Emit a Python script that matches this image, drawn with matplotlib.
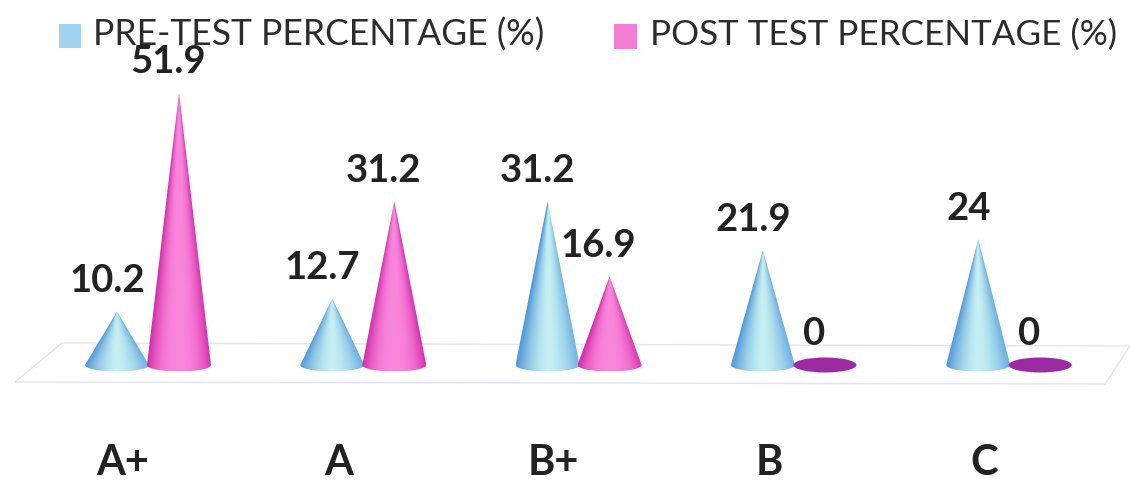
import matplotlib
matplotlib.use('Agg')
import matplotlib.pyplot as plt
import numpy as np
from matplotlib.path import Path
from matplotlib.patches import PathPatch, Ellipse, Rectangle, Polygon

categories = ['A+', 'A', 'B+', 'B', 'C']
pre_test = [10.2, 12.7, 31.2, 21.9, 24]
post_test = [51.9, 31.2, 16.9, 0, 0]
legend_labels = ['PRE-TEST PERCENTAGE (%)', 'POST TEST PERCENTAGE (%)']

plt.rcParams['font.family'] = ['Lato', 'DejaVu Sans']

W, H = 1130, 484
fig = plt.figure(figsize=(W / 100, H / 100), dpi=100)
ax = fig.add_axes([0, 0, 1, 1])

# one category = 215.3 px, one percent = 5.24 px
xlim = (-148 / 215.3, (W - 148) / 215.3)
ylim = (-(H - 365) / 5.24, 365 / 5.24)
px_x = 1 / 215.3
px_y = 1 / 5.24


def cone(x, val, half_w, left, mid, right, power):
    half_h = 6.5 * px_y
    left, mid, right = [np.array(matplotlib.colors.to_rgb(c)) for c in (left, mid, right)]
    xs = np.linspace(x - half_w, x + half_w, 120)
    ys = np.linspace(-half_h, val, 300)
    img = np.zeros((len(ys), len(xs), 3))
    for i, yy in enumerate(ys):
        w = half_w * max(1 - max(yy, 0) / val, 0.001)
        u = np.clip((xs - x) / w, -1, 1)
        edge = np.where(u[:, None] < 0, left, right)
        k = (1 - np.abs(u)[:, None] ** power)
        img[i] = edge + (mid - edge) * k
    im = ax.imshow(img, extent=(xs[0], xs[-1], ys[0], ys[-1]), origin='lower',
                   aspect='auto', zorder=3, interpolation='bilinear')
    t = np.linspace(np.pi, 2 * np.pi, 40)
    verts = [(x + half_w * np.cos(a), half_h * np.sin(a)) for a in t]
    verts = verts + [(x, val), verts[0]]
    codes = [Path.MOVETO] + [Path.LINETO] * (len(verts) - 2) + [Path.CLOSEPOLY]
    clip = PathPatch(Path(verts, codes), transform=ax.transData, fc='none', ec='none')
    ax.add_patch(clip)
    im.set_clip_path(clip)


# floor of the 3d plot
ax.add_patch(Polygon([(15 / W, 1 - 382 / H), (62 / W, 1 - 343 / H), (1130 / W, 1 - 346 / H),
                      (1105 / W, 1 - 384 / H)], closed=True, transform=ax.transAxes,
                     fc='none', ec='#e4e4f6', lw=1, zorder=1))

for i in range(len(categories)):
    x1 = i - 31 * px_x
    x2 = i + 31 * px_x
    cone(x1, pre_test[i], 32 * px_x, '#4f97d8', '#c6f0f2', '#6aaee2', 1.6)
    if post_test[i] > 0:
        cone(x2, post_test[i], 32 * px_x, '#d02ba6', '#fa86dc', '#d832ae', 2.4)
    else:
        ax.add_patch(Ellipse((x2, 0), 63 * px_x, 15 * px_y, fc='#9c2ba3', ec='none', zorder=3))
    ax.annotate(str(pre_test[i]), (x1, pre_test[i]), xytext=(-7, 22), textcoords='offset points',
                ha='center', va='center', fontsize=27.5, fontweight='bold', color='#222222', zorder=5)
    ax.annotate(str(post_test[i]), (x2, post_test[i]), xytext=(-8, 22), textcoords='offset points',
                ha='center', va='center', fontsize=27.5, fontweight='bold', color='#222222', zorder=5)
    ax.annotate(categories[i], (i, ylim[0]), xytext=(-18, 15), textcoords='offset points',
                ha='center', va='center', fontsize=30, fontweight='bold', color='#222222')

ax.set_xlim(xlim)
ax.set_ylim(ylim)
ax.axis('off')

# legend
ax.add_patch(Rectangle((59 / W, 1 - 48 / H), 22 / W, 24 / H, transform=ax.transAxes,
                       fc='#9fd3f0', ec='none', zorder=2))
ax.add_patch(Rectangle((614 / W, 1 - 49 / H), 23 / W, 25 / H, transform=ax.transAxes,
                       fc='#f47fd4', ec='none', zorder=2))
ax.text(93 / W, 1 - 35 / H, legend_labels[0], transform=ax.transAxes, ha='left', va='center',
        fontsize=25.6, color='#2c2c2c', zorder=4)
ax.text(650 / W, 1 - 35 / H, legend_labels[1], transform=ax.transAxes, ha='left', va='center',
        fontsize=25.2, color='#2c2c2c', zorder=4)

fig.savefig('out.png', dpi=100, facecolor='white')
